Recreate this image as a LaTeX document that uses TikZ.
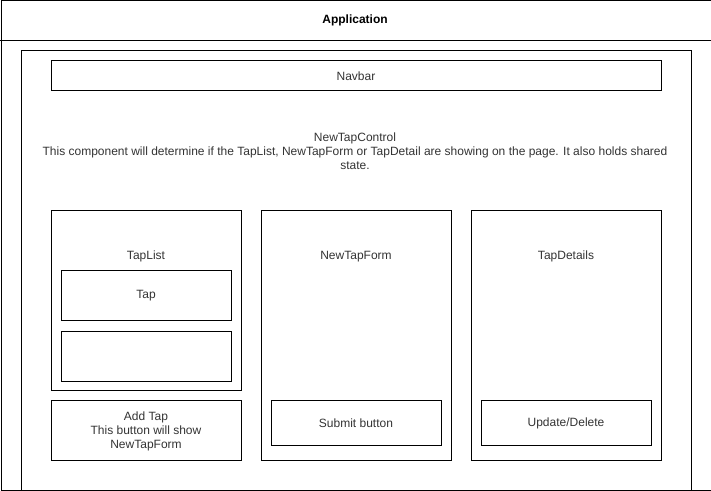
\documentclass[tikz,border=0pt]{standalone}
\usepackage{fontspec}
\setmainfont{Liberation Sans}
\usetikzlibrary{positioning}
\tikzset{
  frame/.style={rectangle, draw=black, line width=0.75pt, inner sep=0pt},
  comp/.style={rectangle, draw=black, line width=0.75pt, inner sep=0pt,
    align=center, font=\fontsize{9}{10.5}\selectfont, text=black!80},
  lbl/.style={inner sep=0pt, align=center, font=\fontsize{9}{10.5}\selectfont, text=black!80}
}

\begin{document}
\begin{tikzpicture}[x=0.75pt, y=-0.75pt]
        \useasboundingbox (0,0) rectangle (711,491);
        % outer application frame
        \node[frame, minimum width=710*0.75pt, minimum height=490*0.75pt, anchor=north west] (app) at (0.5,0.5) {};
        \coordinate (hdl) at (0.5,40.5);
        \coordinate (hdr) at (710.5,40.5);
        \draw[line width=0.75pt] (hdl) -- (hdr);
        \node[lbl, font=\fontsize{9}{10.5}\selectfont\bfseries, text=black] (apptitle) at (355,20) {Application};
        % control frame
        \node[frame, minimum width=670*0.75pt, minimum height=440*0.75pt, anchor=north west] (ctrl) at (20.5,50.5) {};
        \node[comp, minimum width=610*0.75pt, minimum height=30*0.75pt, anchor=north west] (navbar) at (50.5,60.5) {Navbar};
        \node[lbl] (ctrltext) at (355,151) {NewTapControl\\This component will determine if the TapList, NewTapForm or TapDetail are showing on the page. It also holds shared\\state.};
        % tap list column
        \node[comp, minimum width=190*0.75pt, minimum height=180*0.75pt, anchor=north west] (taplist) at (50.5,210.5) {};
        \node[lbl, below=40*0.75pt of taplist.north] (taplisttxt) {TapList};
        \node[comp, minimum width=170*0.75pt, minimum height=50*0.75pt, anchor=north west] (tap) at (60.5,270.5) {Tap};
        \node[comp, minimum width=170*0.75pt, minimum height=50*0.75pt, below=10*0.75pt of tap] (tap2) {};
        \node[comp, minimum width=190*0.75pt, minimum height=60*0.75pt, anchor=north west] (addtap) at (50.5,400.5) {Add Tap\\This button will show\\NewTapForm};
        % new tap form column
        \node[comp, minimum width=190*0.75pt, minimum height=250*0.75pt, anchor=north west] (newtapform) at (260.5,210.5) {};
        \node[lbl, below=40*0.75pt of newtapform.north] (newtapformtxt) {NewTapForm};
        \node[comp, minimum width=170*0.75pt, minimum height=45*0.75pt, anchor=north west] (submit) at (270.5,400.5) {Submit button};
        % tap details column
        \node[comp, minimum width=190*0.75pt, minimum height=250*0.75pt, anchor=north west] (tapdetails) at (470.5,210.5) {};
        \node[lbl, below=40*0.75pt of tapdetails.north] (tapdetailstxt) {TapDetails};
        \node[comp, minimum width=170*0.75pt, minimum height=45*0.75pt, anchor=north west] (update) at (480.5,400.5) {Update/Delete};
      \end{tikzpicture}
\end{document}
